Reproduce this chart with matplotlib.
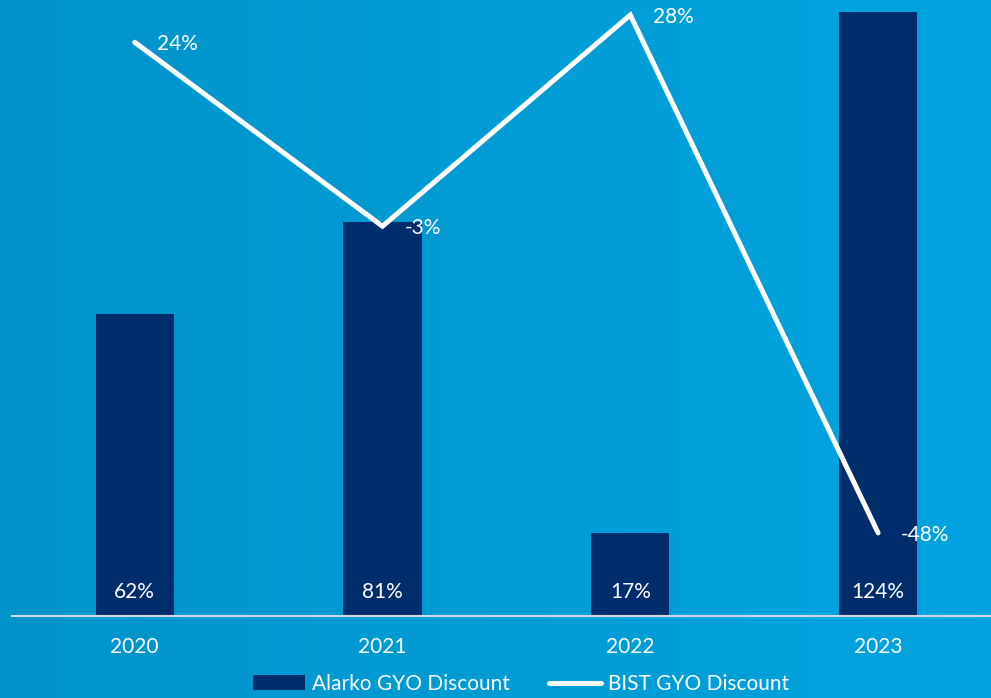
import numpy as np
import matplotlib
matplotlib.use("Agg")
import matplotlib.pyplot as plt
from matplotlib.lines import Line2D
from matplotlib.patches import Patch

plt.rcParams['font.family'] = ['Lato', 'DejaVu Sans']

years = ['2020', '2021', '2022', '2023']
alarko = [62, 81, 17, 124]
bist = [24, -3, 28, -48]

navy = '#002D6B'
fs = 15

fig = plt.figure(figsize=(9.91, 6.98), dpi=100)

# horizontal blue gradient behind everything
bg = fig.add_axes([0, 0, 1, 1], zorder=-10)
grad = np.linspace(0, 1, 256).reshape(1, -1)
cmap = matplotlib.colors.LinearSegmentedColormap.from_list('bg', ['#0094CA', '#00A4E0'])
bg.imshow(grad, aspect='auto', cmap=cmap, extent=[0, 1, 0, 1])
bg.axis('off')

W, H = 991, 698
ax = fig.add_axes([12 / W, 82 / H, 990 / W, 616 / H])
ax.patch.set_alpha(0)
x = np.arange(len(years))
bars = ax.bar(x, alarko, width=0.315, color=navy, zorder=2)
ax.set_xlim(-0.495, 3.5)
ax.set_ylim(0, 126.5)
for xi, v in zip(x, alarko):
    ax.text(xi, 5, f'{v}%', ha='center', va='center', color='white', fontsize=fs)

for s in ['top', 'right', 'left']:
    ax.spines[s].set_visible(False)
ax.spines['bottom'].set_color('#D0D8E0')
ax.spines['bottom'].set_linewidth(1.5)
ax.set_yticks([])
ax.set_xticks(x)
ax.set_xticklabels(years, color='white', fontsize=fs)
ax.tick_params(axis='x', length=0, pad=15)

ax2 = ax.twinx()
ax2.set_ylim(-60.2, 30.2)
ax2.plot(x, bist, color='white', lw=3.6, solid_capstyle='round',
         solid_joinstyle='miter', zorder=3)
for xi, v in zip(x, bist):
    ax2.text(xi + 0.09, v - 0.3, f'{v}%', ha='left', va='center',
             color='white', fontsize=fs)
ax2.axis('off')

handles = [Patch(facecolor=navy, edgecolor='none'),
           Line2D([0], [0], color='white', lw=3.6, solid_capstyle='round')]
fig.legend(handles, ['Alarko GYO Discount', 'BIST GYO Discount'],
           loc='center', bbox_to_anchor=(521 / W, 14 / H), ncol=2,
           frameon=False, fontsize=fs, labelcolor='white',
           handlelength=2.5, handleheight=0.7, handletextpad=0.3,
           columnspacing=1.9)

fig.savefig('out.png', dpi=100)
